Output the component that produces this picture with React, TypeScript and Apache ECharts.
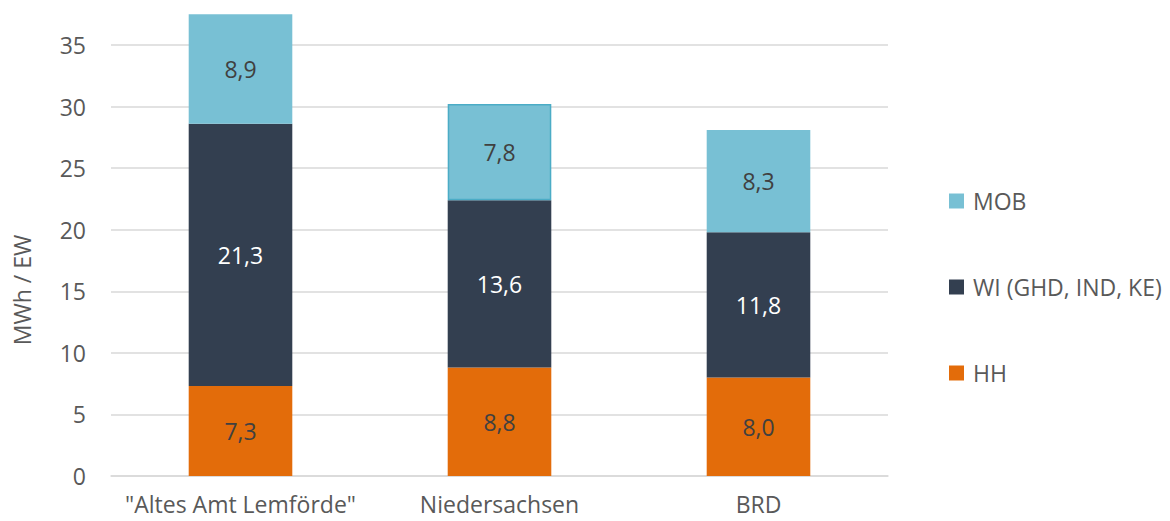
import React, { useEffect, useRef } from "react";
import * as echarts from "echarts";

const categories = ['"Altes Amt Lemförde"', "Niedersachsen", "BRD"];
const hhValues = [7.3, 8.8, 8.0];
const wiValues = [21.3, 13.6, 11.8];
const mobValues = [8.9, 7.8, 8.3];
const seriesNames = ["HH", "WI (GHD, IND, KE)", "MOB"];
const yTicks = [0, 5, 10, 15, 20, 25, 30, 35];
const axisTitle = "MWh / EW";

const FONT = "Open Sans";
const fmt = (v: number) => v.toFixed(1).replace(".", ",");

export default function App() {
  const ref = useRef<HTMLDivElement>(null);
  useEffect(() => {
    if (!ref.current) return;
    const chart = echarts.init(ref.current, undefined, { renderer: "svg" });
    const labelBase = {
      show: true,
      position: "inside" as const,
      fontFamily: FONT,
      fontSize: 23,
      formatter: (p: any) => fmt(p.value),
    };
    chart.setOption({
      animation: false,
      textStyle: { fontFamily: FONT },
      grid: { left: 111, right: 282, top: 0, bottom: 45, containLabel: false },
      legend: {
        orient: "vertical",
        left: 944,
        top: 181,
        itemWidth: 15,
        itemHeight: 15,
        itemGap: 56,
        icon: "rect",
        data: [seriesNames[2], seriesNames[1], seriesNames[0]],
        textStyle: { fontFamily: FONT, fontSize: 23, color: "#595959", lineHeight: 30, padding: [0, 0, 0, 4] },
      },
      xAxis: {
        type: "category",
        data: categories,
        axisLine: { show: true, lineStyle: { color: "#D9D9D9", width: 1.5 } },
        axisTick: { show: false },
        axisLabel: { fontFamily: FONT, fontSize: 23, color: "#595959", margin: 16, interval: 0 },
      },
      yAxis: {
        type: "value",
        min: 0,
        max: 38.65,
        interval: 5,
        axisLine: { show: false },
        axisTick: { show: false },
        splitLine: { show: true, showMaxLine: false, lineStyle: { color: "#D9D9D9", width: 1.5 } },
        axisLabel: {
          fontFamily: FONT,
          fontSize: 23,
          color: "#595959",
          margin: 25,
          showMaxLabel: false,
          formatter: (v: number) => (yTicks.includes(v) ? String(v) : ""),
        },
      },
      graphic: [
        {
          type: "text",
          x: 22,
          y: 290,
          rotation: Math.PI / 2,
          style: {
            text: axisTitle,
            fontFamily: FONT,
            fontSize: 23,
            fill: "#595959",
            align: "center",
            verticalAlign: "middle",
          },
        },
      ],
      series: [
        {
          name: seriesNames[0],
          type: "bar",
          stack: "total",
          barWidth: "40%",
          itemStyle: { color: "#E36C0A" },
          label: { ...labelBase, color: "#404040" },
          data: hhValues,
        },
        {
          name: seriesNames[1],
          type: "bar",
          stack: "total",
          barWidth: "40%",
          itemStyle: { color: "#333F50" },
          label: { ...labelBase, color: "#FFFFFF" },
          data: wiValues,
        },
        {
          name: seriesNames[2],
          type: "bar",
          stack: "total",
          barWidth: "40%",
          itemStyle: { color: "#78C0D4" },
          label: { ...labelBase, color: "#404040" },
          data: mobValues.map((v, i) =>
            i === 1 ? { value: v, itemStyle: { borderColor: "#4BACC6", borderWidth: 1.5 } } : v
          ),
        },
      ],
    });
    return () => chart.dispose();
  }, []);
  return (
    <div
      ref={ref}
      style={{ position: "fixed", left: 0, top: 0, width: 1170, height: 521, background: "#fff" }}
    />
  );
}
